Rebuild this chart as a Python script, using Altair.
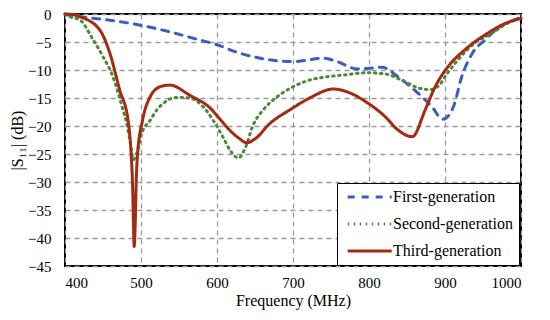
import altair as alt
import pandas as pd

series_names = ["First-generation", "Second-generation", "Third-generation"]

first_freq = [400, 420, 459, 499, 538, 568, 600, 630, 657, 700, 740, 758, 784, 800, 817,
              838, 860, 883, 897, 911, 922, 936, 953, 970, 996, 1000]
first_db = [-0.1, -0.5, -1.1, -2.0, -3.2, -4.3, -5.5, -7.0, -7.9, -8.5, -7.9, -8.5, -9.8, -9.7, -9.5,
            -11.2, -13.6, -16.6, -18.8, -16.6, -11.2, -7.0, -4.6, -2.5, -0.8, -0.6]

second_freq = [400, 407, 420, 437, 450, 463, 475, 481, 486, 490, 494, 501, 512, 521, 532, 545,
               564, 582, 595, 608, 618, 628, 637, 647, 661, 679, 700, 722, 745, 766, 797,
               821, 843, 865, 880, 892, 900, 917, 939, 962, 983, 1000]
second_db = [0.0, -0.5, -1.1, -4.6, -7.6, -11.2, -16.5, -19.5, -23.0, -26.0, -25.0, -21.3, -19.0, -17.1, -15.7, -14.9,
             -15.0, -16.6, -19.0, -22.0, -24.5, -25.7, -24.0, -20.0, -17.1, -14.8, -13.0, -11.8, -11.2, -10.9, -10.5,
             -10.7, -11.8, -13.2, -13.5, -12.8, -11.2, -8.2, -5.2, -3.4, -1.6, -0.7]

third_freq = [400, 410, 420, 446, 459, 472, 483, 487, 489, 490, 491, 492.5, 493.5, 495.5, 502,
              512, 525, 538, 564, 591, 604, 617, 630, 639, 650, 670, 696, 722, 753, 775, 795,
              821, 838, 857, 874, 887, 904, 926, 953, 979, 1000]
third_db = [0.0, -0.1, -0.5, -2.9, -7.0, -13.6, -19.0, -25.0, -31.0, -37.0, -41.5, -37.0, -31.0, -25.0, -19.0,
            -14.8, -13.0, -12.7, -14.5, -16.8, -18.8, -20.8, -22.3, -23.0, -22.3, -19.5, -17.1, -15.0, -13.4, -14.1, -15.6,
            -18.3, -20.7, -21.9, -17.1, -13.0, -9.4, -6.4, -3.7, -1.7, -0.8]

x_ticks = [400, 500, 600, 700, 800, 900, 1000]
y_ticks = [-45, -40, -35, -30, -25, -20, -15, -10, -5, 0]

colors = ["#3D5CC0", "#4B8A3A", "#A52A14"]
dashes = [[7, 7], [1.5, 4.5], [1, 0]]

rows = []
for name, fr, db in [(series_names[0], first_freq, first_db),
                     (series_names[1], second_freq, second_db),
                     (series_names[2], third_freq, third_db)]:
    for i, (f, d) in enumerate(zip(fr, db)):
        rows.append({"series": name, "freq": f, "s11": d, "order": i})
df = pd.DataFrame(rows)

FONT = "Liberation Serif"

legend = alt.Legend(
    title=None, orient="none", legendX=272, legendY=169,
    strokeColor="black", fillColor="white", padding=6,
    symbolType="M-0.6,0H7.4", symbolSize=121, symbolStrokeWidth=3,
    labelFont=FONT, labelFontSize=16, labelColor="black", labelOffset=34,
    rowPadding=11,
)

chart = alt.Chart(df).mark_line(strokeWidth=3, strokeCap="round", interpolate="monotone").encode(
    x=alt.X("freq:Q", scale=alt.Scale(domain=[400, 1000], nice=False, zero=False),
            axis=alt.Axis(values=x_ticks, format="d", title="Frequency (MHz)")),
    y=alt.Y("s11:Q", scale=alt.Scale(domain=[-45, 0], nice=False),
            axis=alt.Axis(values=y_ticks, format="d", title="|S₁₁| (dB)")),
    color=alt.Color("series:N", scale=alt.Scale(domain=series_names, range=colors), legend=legend),
    strokeDash=alt.StrokeDash("series:N", scale=alt.Scale(domain=series_names, range=dashes), legend=legend),
    order="order:Q",
).properties(
    width=456, height=252,
    autosize=alt.AutoSizeParams(type="none"),
    padding={"left": 57, "top": 6, "right": 21, "bottom": 46},
).configure(
    font=FONT
).configure_view(
    stroke="black", strokeWidth=2
).configure_axis(
    domain=False, ticks=False, grid=True,
    gridColor="#9a9a9a", gridDash=[5, 4], gridWidth=1.3,
    labelFont=FONT, labelFontSize=15, labelColor="black",
    titleFont=FONT, titleFontSize=16, titleColor="black", titleFontWeight="normal",
).configure_axisX(
    labelPadding=9, titlePadding=2,
).configure_axisY(
    labelPadding=14, titlePadding=2,
)

chart.save("out.html", embed_options={"renderer": "svg", "actions": False})
